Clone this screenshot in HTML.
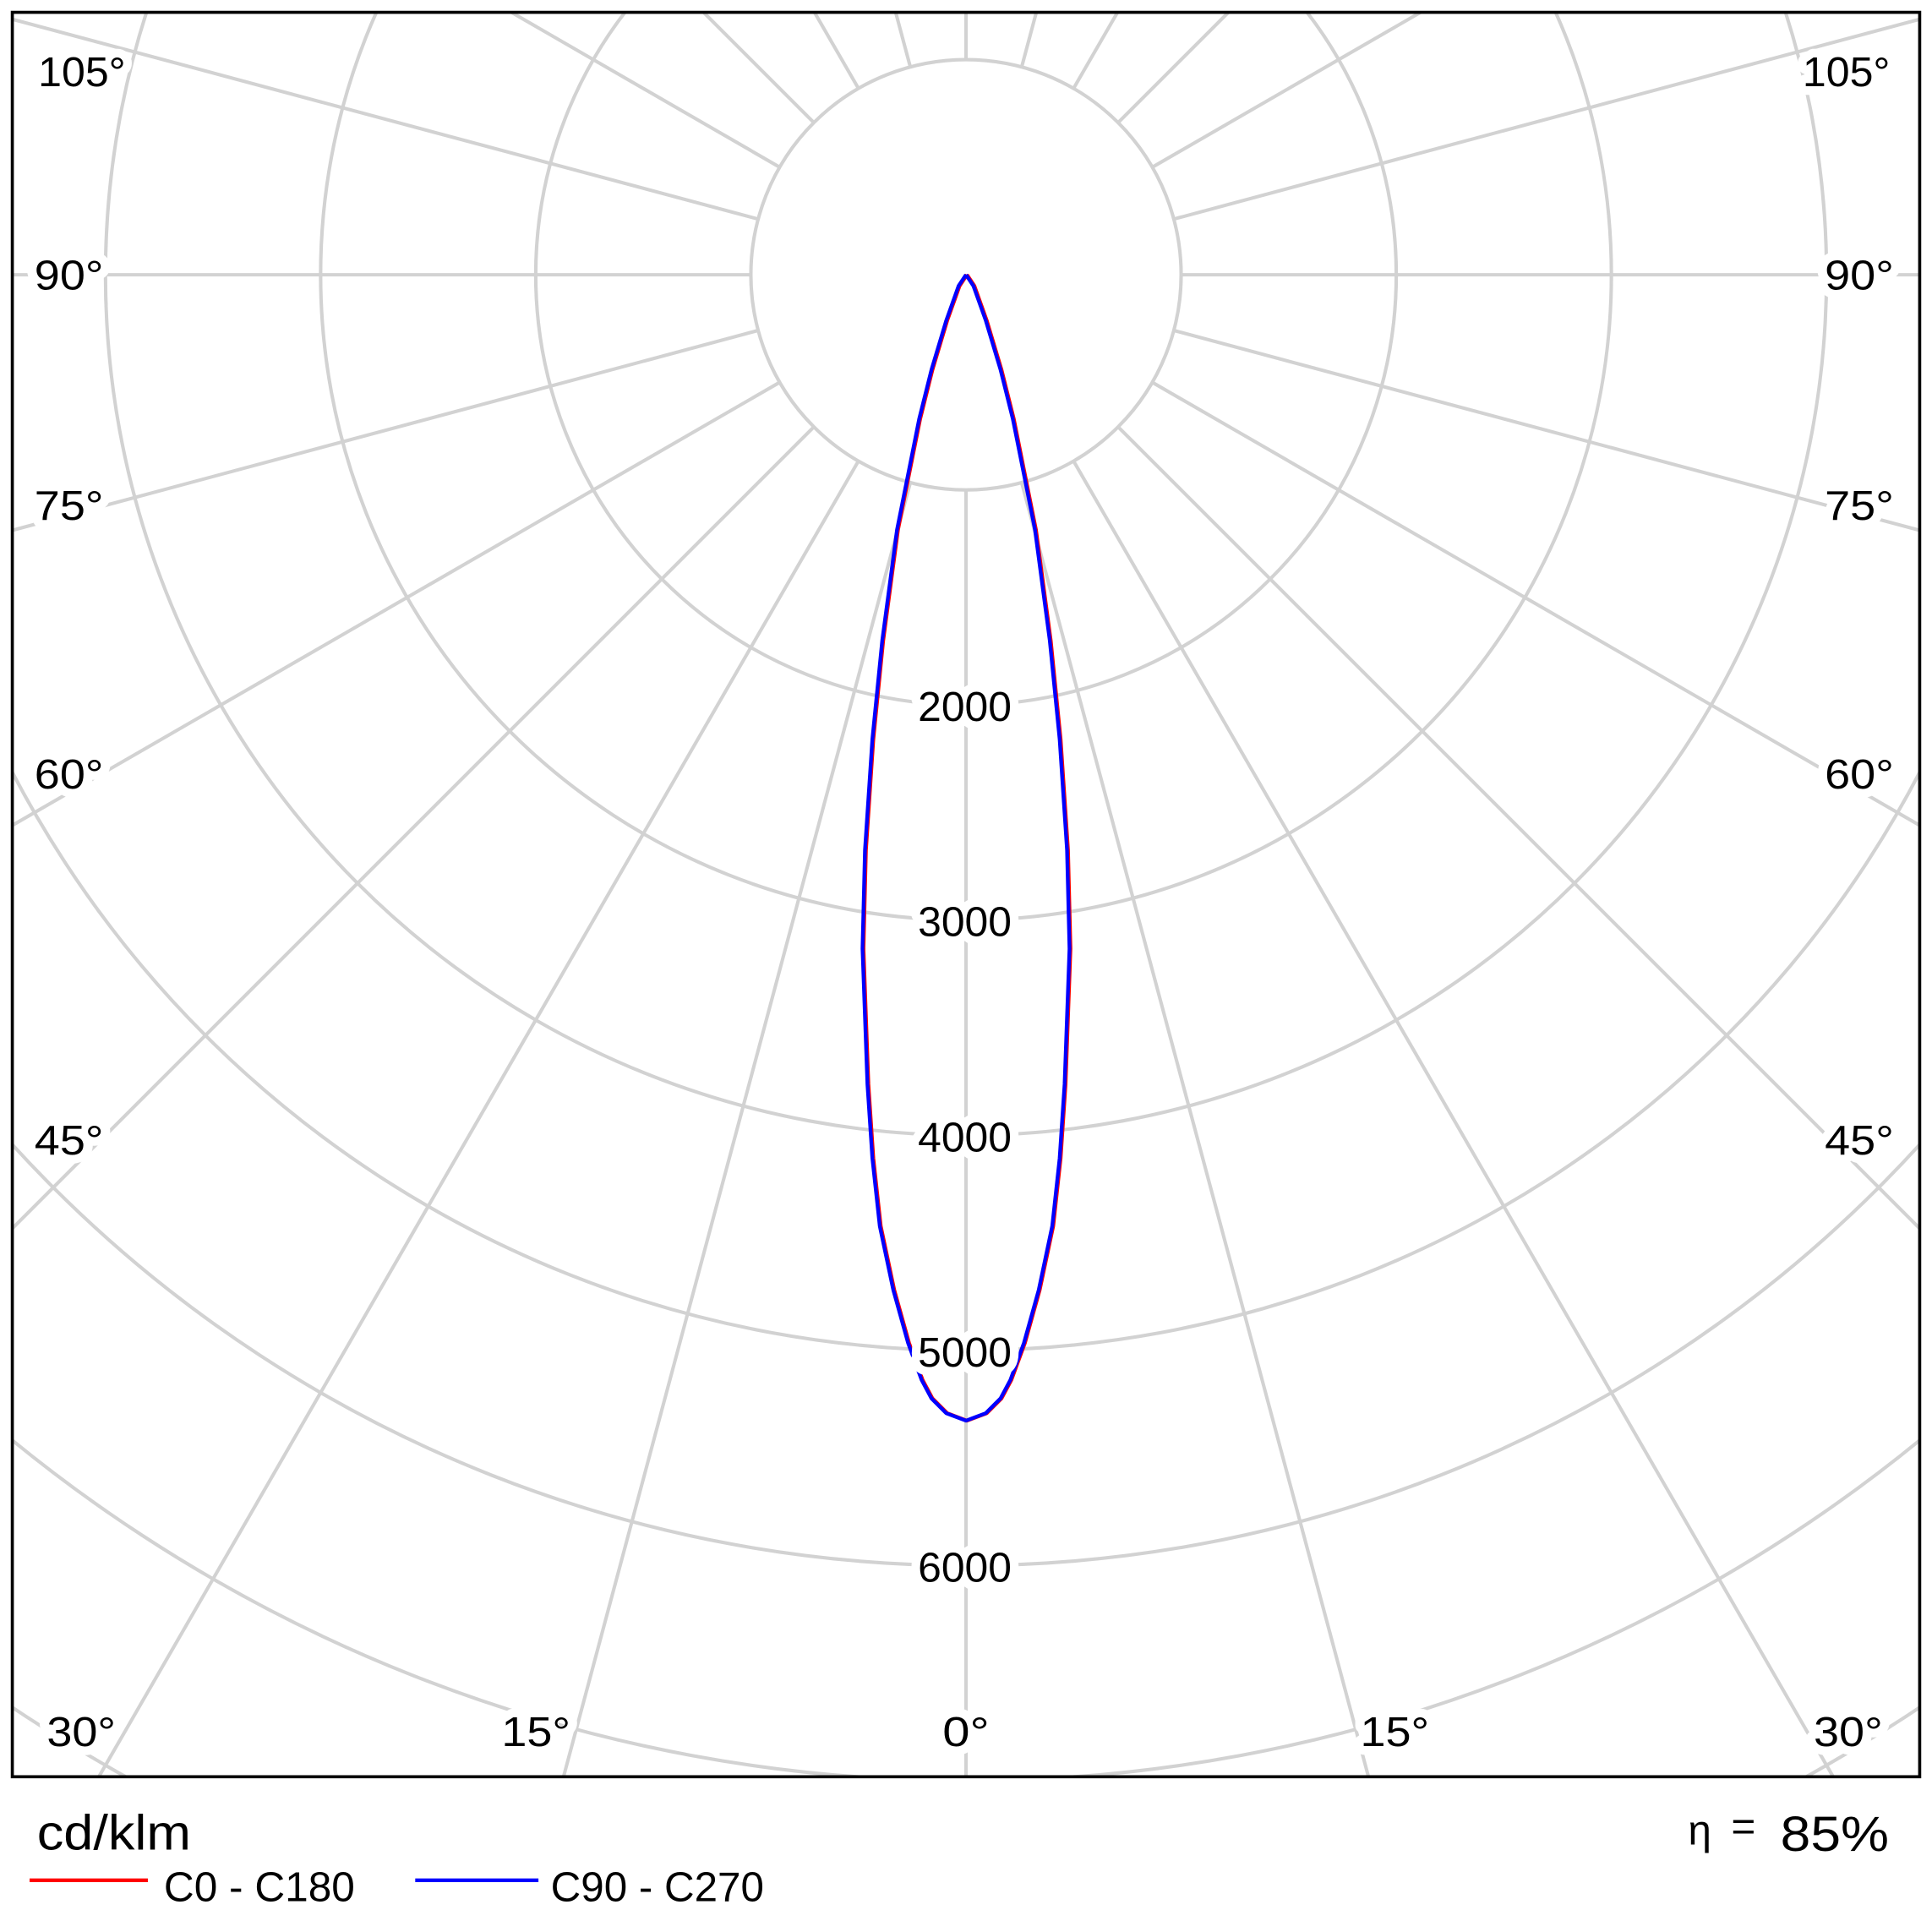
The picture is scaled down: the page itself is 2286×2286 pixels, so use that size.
<!DOCTYPE html>
<html><head><meta charset="utf-8"><style>html,body{margin:0;padding:0;background:#fff;width:2286px;height:2286px;overflow:hidden}svg{display:block;overflow:hidden}</style></head>
<body>
<svg xmlns="http://www.w3.org/2000/svg" width="2286" height="2286" viewBox="0 0 1568 1568" font-family="Liberation Sans, DejaVu Sans, sans-serif">
<rect width="1568" height="1568" fill="#fff"/>
<svg x="10" y="10" width="1548" height="1432" viewBox="10 10 1548 1432" overflow="hidden">
<g stroke="#d2d2d2" stroke-width="2.8" fill="none" id="grid"></g>
</svg>
<g fill="none" stroke-width="3" stroke-linejoin="round">
<polyline id="red" stroke="#f00" transform="translate(0.8,0)"/>
<polyline id="blue" stroke="#00f"/>
</g>
<g font-size="34" fill="#000" text-anchor="middle" id="vals" stroke="#fff" stroke-width="14" paint-order="stroke" stroke-linejoin="round"></g>
<g font-size="34" fill="#000" stroke="#fff" stroke-width="14" paint-order="stroke" stroke-linejoin="round">
<text x="31" y="70" textLength="71" lengthAdjust="spacingAndGlyphs">105°</text>
<text x="28" y="235" textLength="56" lengthAdjust="spacingAndGlyphs">90°</text>
<text x="28" y="422" textLength="56" lengthAdjust="spacingAndGlyphs">75°</text>
<text x="28" y="640" textLength="56" lengthAdjust="spacingAndGlyphs">60°</text>
<text x="28" y="937" textLength="56" lengthAdjust="spacingAndGlyphs">45°</text>
<text x="38" y="1417" textLength="56" lengthAdjust="spacingAndGlyphs">30°</text>
<text x="407" y="1417" textLength="56" lengthAdjust="spacingAndGlyphs">15°</text>
<text x="765" y="1417" textLength="38" lengthAdjust="spacingAndGlyphs">0°</text>
<text x="1104" y="1417" textLength="56" lengthAdjust="spacingAndGlyphs">15°</text>
<text x="1472" y="1417" textLength="56" lengthAdjust="spacingAndGlyphs">30°</text>
<text x="1481" y="937" textLength="56" lengthAdjust="spacingAndGlyphs">45°</text>
<text x="1481" y="640" textLength="56" lengthAdjust="spacingAndGlyphs">60°</text>
<text x="1481" y="422" textLength="56" lengthAdjust="spacingAndGlyphs">75°</text>
<text x="1481" y="235" textLength="56" lengthAdjust="spacingAndGlyphs">90°</text>
<text x="1463" y="70" textLength="71" lengthAdjust="spacingAndGlyphs">105°</text>
</g>
<rect x="10" y="10" width="1548" height="1432" fill="none" stroke="#000" stroke-width="2.5"/>
<text x="30" y="1501" font-size="40" textLength="125" lengthAdjust="spacingAndGlyphs">cd/klm</text>
<line x1="24" y1="1526" x2="120" y2="1526" stroke="#f00" stroke-width="3"/>
<text x="133" y="1543" font-size="34" textLength="155" lengthAdjust="spacingAndGlyphs">C0 - C180</text>
<line x1="337" y1="1526" x2="437" y2="1526" stroke="#00f" stroke-width="3"/>
<text x="447" y="1543" font-size="34" textLength="173" lengthAdjust="spacingAndGlyphs">C90 - C270</text>
<text x="1370" y="1497" font-size="34">η</text>
<text x="1405" y="1494" font-size="34">=</text>
<text x="1445" y="1502" font-size="40" textLength="88" lengthAdjust="spacingAndGlyphs">85%</text>
<script>
var cx=784,cy=223,g=document.getElementById('grid'),ns='http://www.w3.org/2000/svg';
for(var v=1;v<=9;v++){var c=document.createElementNS(ns,'circle');c.setAttribute('cx',cx);c.setAttribute('cy',cy);c.setAttribute('r',174.6*v);g.appendChild(c);}
for(var a=-180;a<180;a+=15){var t=a*Math.PI/180,l=document.createElementNS(ns,'line');
l.setAttribute('x1',cx+175*Math.sin(t));l.setAttribute('y1',cy+175*Math.cos(t));
l.setAttribute('x2',cx+1500*Math.sin(t));l.setAttribute('y2',cy+1500*Math.cos(t));g.appendChild(l);}
var L=[[784,223],[778,232],[768,260],[756,300],[746,340],[738,380],[728,430],[716,520],[708,600],[702,690],[700,770],[704,880],[708,940],[714,995],[725,1047],[737,1090],[748,1120],[756,1135],[768,1147],[784,1153]];
var pts=L.map(function(p){return p.join(',')});
for(var i=L.length-2;i>=0;i--)pts.push((1568-L[i][0])+','+L[i][1]);
document.getElementById('red').setAttribute('points',pts.join(' '));
document.getElementById('blue').setAttribute('points',pts.join(' '));
var vg=document.getElementById('vals');
[2000,3000,4000,5000,6000].forEach(function(v){var y=cy+174.6*v/1000;
var tx=document.createElementNS(ns,'text');tx.setAttribute('x',783);tx.setAttribute('y',y+13);tx.setAttribute('textLength',76);tx.setAttribute('lengthAdjust','spacingAndGlyphs');tx.textContent=v;vg.appendChild(tx);});
</script>
</svg>
</body></html>
